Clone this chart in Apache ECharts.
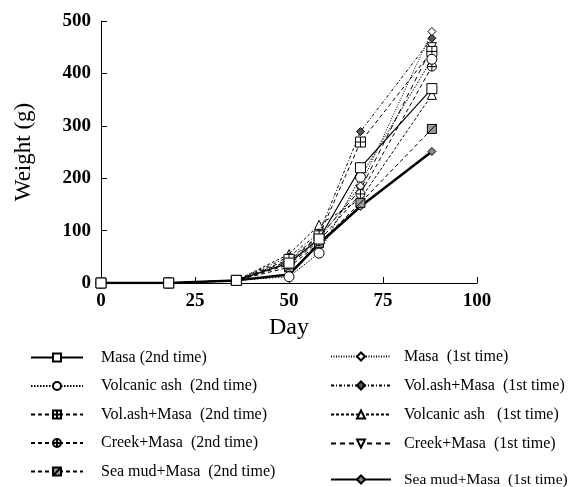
<!DOCTYPE html>
<html><head><meta charset="utf-8">
<script src="https://cdn.jsdelivr.net/npm/echarts@6/dist/echarts.min.js"></script>
<style>html,body{margin:0;padding:0;background:#fff}#c{width:573px;height:487px}</style>
</head><body><div id="c"></div>
<script>
const days = [0, 18, 36, 50, 58, 69, 88];
const xTicks = [0, 25, 50, 75, 100];
const yTicks = [0, 100, 200, 300, 400, 500];
const masa2 = [0, 0, 5, 38, 84, 220, 371];
const volAsh2 = [0, 0, 5, 12, 57, 202, 427];
const volAshMasa2 = [0, 0, 5, 45, 90, 269, 442];
const creekMasa2 = [0, 0, 5, 35, 80, 170, 413];
const seaMud2 = [0, 0, 5, 30, 76, 153, 294];
const masa1 = [0, 0, 5, 40, 85, 185, 480];
const volAshMasa1 = [0, 0, 5, 50, 95, 289, 467];
const volAsh1 = [0, 0, 5, 55, 111, 160, 359];
const creekMasa1 = [0, 0, 5, 42, 88, 178, 450];
const seaMud1 = [0, 0, 5, 16, 75, 146, 251];
const names = ['Masa (2nd time)', 'Volcanic ash  (2nd time)', 'Vol.ash+Masa  (2nd time)', 'Creek+Masa  (2nd time)', 'Sea mud+Masa  (2nd time)',
  'Masa  (1st time)', 'Vol.ash+Masa  (1st time)', 'Volcanic ash   (1st time)', 'Creek+Masa  (1st time)', 'Sea mud+Masa  (1st time)'];
const values = [masa2, volAsh2, volAshMasa2, creekMasa2, seaMud2, masa1, volAshMasa1, volAsh1, creekMasa1, seaMud1];

const SERIF = '"Liberation Serif","Times New Roman",serif';
const gridSq = 'path://M0,0L10,0L10,10L0,10Z M5,0L5,10 M0,5L10,5';
const crossC = 'path://M5,0A5,5 0 1 1 4.99,0Z M5,0L5,10 M0,5L10,5';
const halfSq = 'path://M0,0L10,0L10,10L0,10Z M0,10L10,0';
const styles = [
  {sym: 'rect', size: 10, type: 'solid', w: 1.2, fill: '#fff'},
  {sym: 'circle', size: 10, type: [1.5, 1.5], w: 1, fill: '#fff'},
  {sym: gridSq, size: 10, type: [4, 3], w: 1, fill: '#fff'},
  {sym: crossC, size: 9, type: [4, 3], w: 1, fill: '#fff'},
  {sym: halfSq, size: 9, type: [4, 3], w: 1, fill: '#999'},
  {sym: 'diamond', size: 8, type: [1, 1.5], w: 1, fill: '#fff'},
  {sym: 'diamond', size: 8, type: [3, 2, 1, 2], w: 1, fill: '#555'},
  {sym: 'triangle', size: 9, type: [3, 2], w: 1, fill: '#fff'},
  {sym: 'triangle', size: 9, type: [5, 4], w: 1, fill: '#fff', rot: 180},
  {sym: 'diamond', size: 8, type: 'solid', w: 2.5, fill: '#888'}
];

const series = names.map((n, i) => ({
  name: n, type: 'line',
  data: days.map((d, j) => [d, values[i][j]]),
  symbol: styles[i].sym, symbolSize: styles[i].size, symbolRotate: styles[i].rot || 0,
  lineStyle: {color: '#000', width: styles[i].w, type: styles[i].type},
  itemStyle: {color: styles[i].fill, borderColor: '#000', borderWidth: 1},
  z: 10 - i
}));

const chart = echarts.init(document.getElementById('c'), null, {renderer: 'canvas'});
const legendText = {fontFamily: SERIF, fontSize: 16, lineHeight: 15, color: '#000'};
chart.setOption({
  animation: false,
  backgroundColor: '#fff',
  grid: {left: 101, right: 96, top: 21, bottom: 204, containLabel: false},
  xAxis: {
    type: 'value', min: 0, max: 100, interval: 25,
    name: 'Day', nameLocation: 'middle', nameGap: 32,
    nameTextStyle: {fontFamily: SERIF, fontSize: 24, color: '#000'},
    axisLine: {lineStyle: {color: '#000', width: 1}},
    axisTick: {inside: true, length: 6, lineStyle: {color: '#000'}},
    axisLabel: {fontFamily: SERIF, fontSize: 19, fontWeight: 'bold', color: '#000', margin: 9,
      formatter: v => xTicks.includes(v) ? String(v) : ''},
    splitLine: {show: false}
  },
  yAxis: {
    type: 'value', min: 0, max: 500, interval: 100,
    name: 'Weight (g)', nameLocation: 'middle', nameGap: 66, nameRotate: 90,
    nameTextStyle: {fontFamily: SERIF, fontSize: 23, color: '#000'},
    axisLine: {show: true, lineStyle: {color: '#000', width: 1}},
    axisTick: {show: true, inside: true, length: 6, lineStyle: {color: '#000'}},
    axisLabel: {fontFamily: SERIF, fontSize: 19, fontWeight: 'bold', color: '#000', margin: 10,
      formatter: v => yTicks.includes(v) ? String(v) : ''},
    splitLine: {show: false}
  },
  legend: [
    {orient: 'vertical', left: 25, top: 344.5, height: 170, itemWidth: 52, itemHeight: 10, itemGap: 12.5,
      textStyle: Object.assign({padding: [0, 0, 0, 13]}, legendText), inactiveColor: '#000', data: names.slice(0, 5)},
    {orient: 'vertical', left: 325, top: 343.5, height: 170, itemWidth: 60, itemHeight: 10, itemGap: 13,
      textStyle: Object.assign({padding: [0, 0, 0, 8]}, legendText), inactiveColor: '#000', data: names.slice(5, 9)},
    {orient: 'vertical', left: 325, top: 466.5, height: 30, itemWidth: 60, itemHeight: 10, itemGap: 13,
      textStyle: Object.assign({padding: [0, 0, 0, 8]}, legendText, {fontSize: 15.5}), inactiveColor: '#000', data: names.slice(9)}
  ],
  series: series
});
</script></body></html>
